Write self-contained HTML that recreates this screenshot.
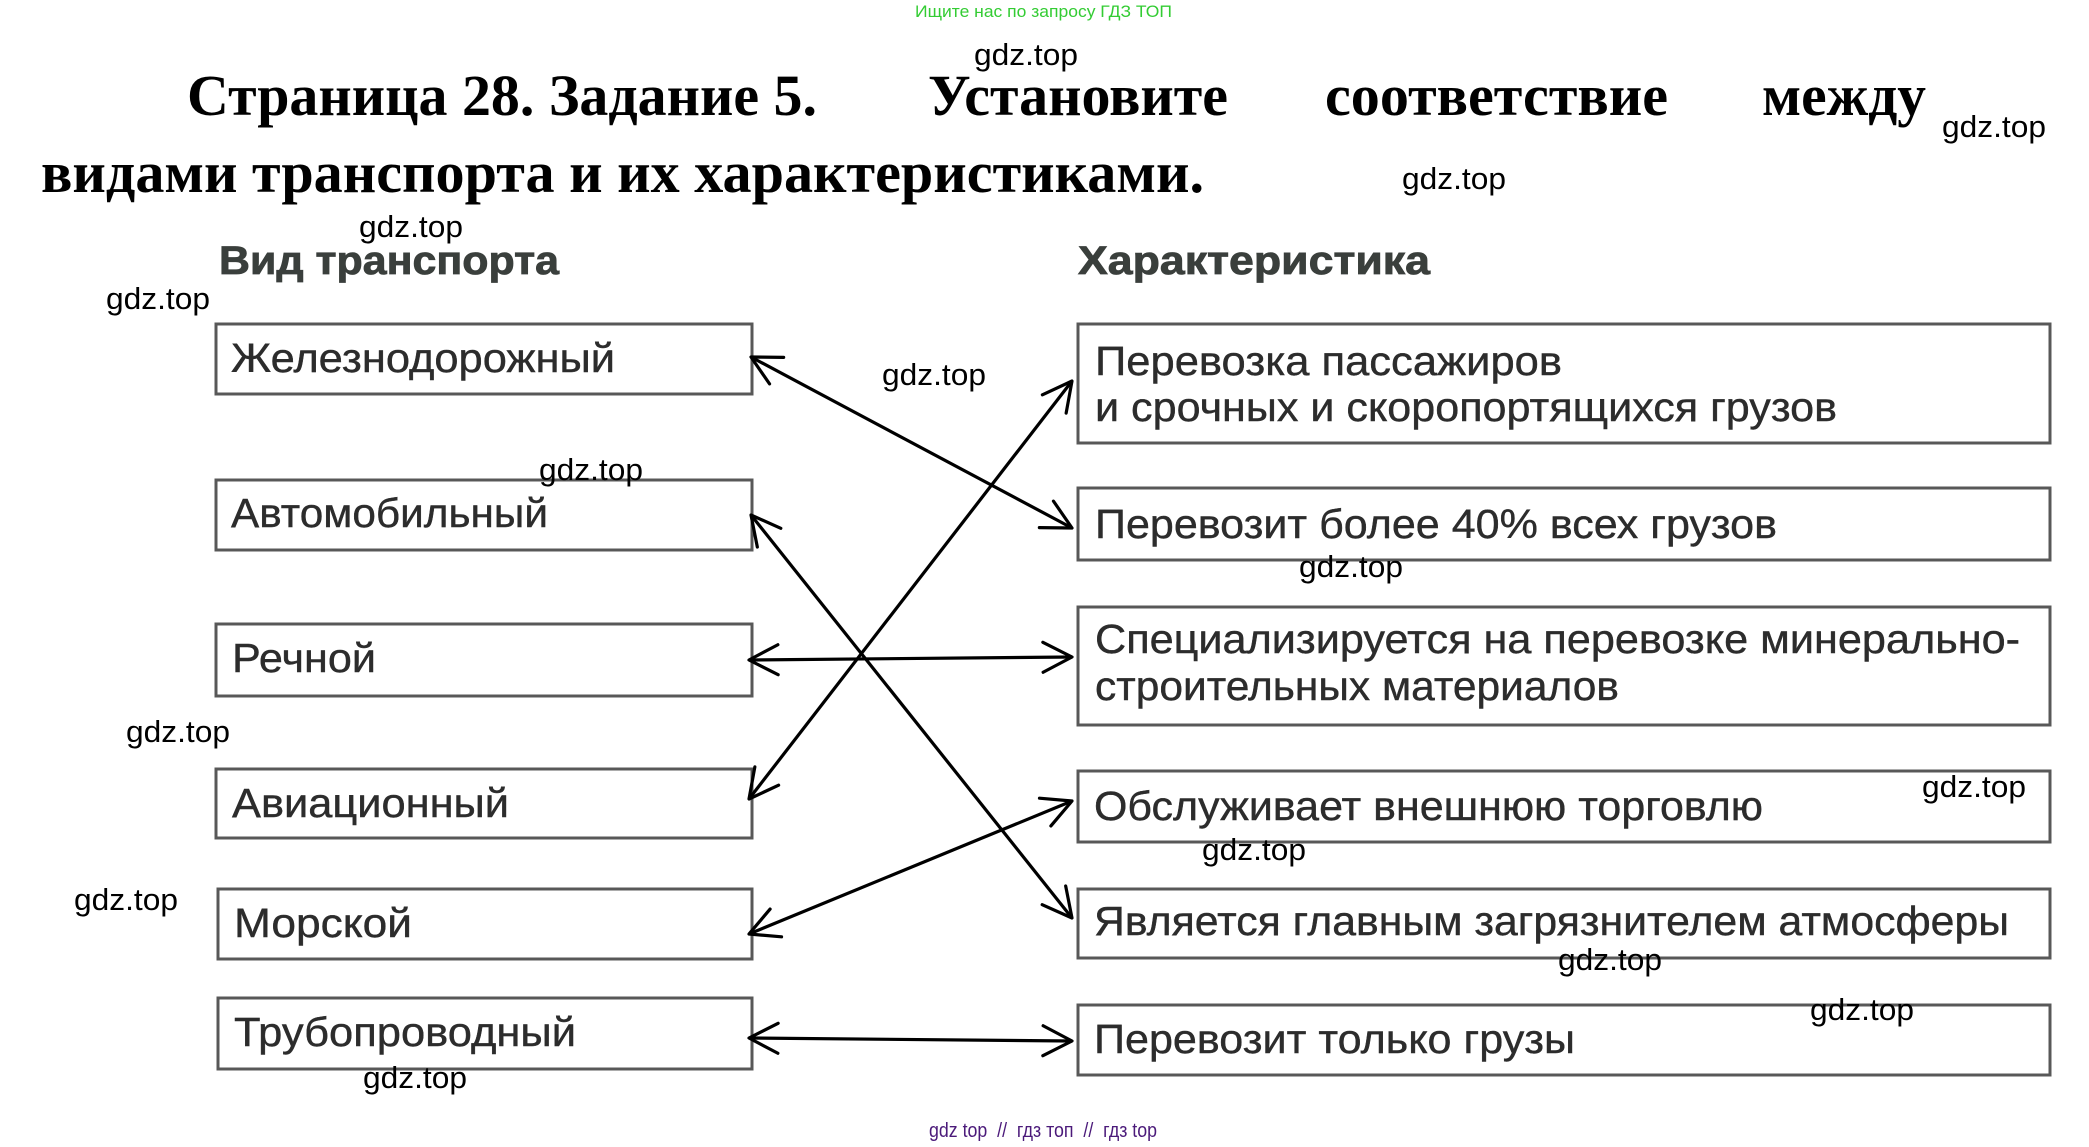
<!DOCTYPE html>
<html>
<head>
<meta charset="utf-8">
<style>
html,body{margin:0;padding:0;background:#fff;}
svg{display:block;}
.t{font-family:"Liberation Serif",serif;font-weight:bold;font-size:58px;fill:#000;}
.h{font-family:"Liberation Sans",sans-serif;font-weight:bold;font-size:40px;fill:#3a3f3c;stroke:#3a3f3c;stroke-width:0.8px;}
.b{font-family:"Liberation Sans",sans-serif;font-size:41px;fill:#2c2c2c;stroke:#2c2c2c;stroke-width:0.4px;}
.w{font-family:"Liberation Sans",sans-serif;font-size:31px;fill:#000;}
.box{fill:none;stroke:#585858;stroke-width:3;}
.ar{stroke:#000;stroke-width:3.2;fill:none;}
</style>
</head>
<body>
<svg width="2089" height="1147" viewBox="0 0 2089 1147" xmlns="http://www.w3.org/2000/svg">
<defs>
<marker id="ah" markerUnits="userSpaceOnUse" viewBox="-34 -20 38 40" markerWidth="38" markerHeight="40" refX="0" refY="0" orient="auto-start-reverse">
<path d="M-29,-15 L0,0 L-29,15" fill="none" stroke="#000" stroke-width="3.2" stroke-linejoin="round" stroke-linecap="round"/>
</marker>
</defs>
<rect width="2089" height="1147" fill="#fff"/>

<text x="915" y="17" font-family="Liberation Sans, sans-serif" font-size="17" fill="#33cc33" textLength="257" lengthAdjust="spacingAndGlyphs">Ищите нас по запросу ГДЗ ТОП</text>

<!-- Title -->
<text class="t" x="187" y="115" textLength="630" lengthAdjust="spacingAndGlyphs">Страница 28. Задание 5.</text>
<text class="t" x="928" y="115" textLength="300" lengthAdjust="spacingAndGlyphs">Установите</text>
<text class="t" x="1325" y="115" textLength="343" lengthAdjust="spacingAndGlyphs">соответствие</text>
<text class="t" x="1762" y="115" textLength="164" lengthAdjust="spacingAndGlyphs">между</text>
<text class="t" x="41" y="192" textLength="1163" lengthAdjust="spacingAndGlyphs">видами транспорта и их характеристиками.</text>

<!-- Headers -->
<text class="h" x="219" y="274" textLength="340" lengthAdjust="spacingAndGlyphs">Вид транспорта</text>
<text class="h" x="1078" y="274" textLength="352" lengthAdjust="spacingAndGlyphs">Характеристика</text>

<!-- Left boxes -->
<rect class="box" x="216" y="324" width="536" height="70"/>
<rect class="box" x="216" y="480" width="536" height="70"/>
<rect class="box" x="216" y="624" width="536" height="72"/>
<rect class="box" x="216" y="769" width="536" height="69"/>
<rect class="box" x="218" y="889" width="534" height="70"/>
<rect class="box" x="218" y="998" width="534" height="71"/>

<text class="b" x="231" y="372" textLength="384" lengthAdjust="spacingAndGlyphs">Железнодорожный</text>
<text class="b" x="231" y="527" textLength="317" lengthAdjust="spacingAndGlyphs">Автомобильный</text>
<text class="b" x="232" y="672" textLength="144" lengthAdjust="spacingAndGlyphs">Речной</text>
<text class="b" x="232" y="817" textLength="277" lengthAdjust="spacingAndGlyphs">Авиационный</text>
<text class="b" x="234" y="937" textLength="178" lengthAdjust="spacingAndGlyphs">Морской</text>
<text class="b" x="234" y="1046" textLength="342" lengthAdjust="spacingAndGlyphs">Трубопроводный</text>

<!-- Right boxes -->
<rect class="box" x="1078" y="324" width="972" height="119"/>
<rect class="box" x="1078" y="488" width="972" height="72"/>
<rect class="box" x="1078" y="607" width="972" height="118"/>
<rect class="box" x="1078" y="771" width="972" height="71"/>
<rect class="box" x="1078" y="889" width="972" height="69"/>
<rect class="box" x="1078" y="1005" width="972" height="70"/>

<text class="b" x="1095" y="375" textLength="467" lengthAdjust="spacingAndGlyphs">Перевозка пассажиров</text>
<text class="b" x="1095" y="421" textLength="742" lengthAdjust="spacingAndGlyphs">и срочных и скоропортящихся грузов</text>
<text class="b" x="1095" y="538" textLength="682" lengthAdjust="spacingAndGlyphs">Перевозит более 40% всех грузов</text>
<text class="b" x="1095" y="653" textLength="925" lengthAdjust="spacingAndGlyphs">Специализируется на перевозке минерально-</text>
<text class="b" x="1095" y="700" textLength="524" lengthAdjust="spacingAndGlyphs">строительных материалов</text>
<text class="b" x="1094" y="820" textLength="669" lengthAdjust="spacingAndGlyphs">Обслуживает внешнюю торговлю</text>
<text class="b" x="1094" y="935" textLength="915" lengthAdjust="spacingAndGlyphs">Является главным загрязнителем атмосферы</text>
<text class="b" x="1094" y="1053" textLength="481" lengthAdjust="spacingAndGlyphs">Перевозит только грузы</text>

<!-- Arrows -->
<line class="ar" x1="751" y1="357" x2="1072" y2="528" marker-start="url(#ah)" marker-end="url(#ah)"/>
<line class="ar" x1="751" y1="515" x2="1072" y2="918" marker-start="url(#ah)" marker-end="url(#ah)"/>
<line class="ar" x1="749" y1="660" x2="1072" y2="657" marker-start="url(#ah)" marker-end="url(#ah)"/>
<line class="ar" x1="749" y1="799" x2="1072" y2="381" marker-start="url(#ah)" marker-end="url(#ah)"/>
<line class="ar" x1="749" y1="934" x2="1072" y2="801" marker-start="url(#ah)" marker-end="url(#ah)"/>
<line class="ar" x1="749" y1="1038" x2="1072" y2="1041" marker-start="url(#ah)" marker-end="url(#ah)"/>

<!-- Watermarks -->
<text class="w" x="974" y="65" textLength="104" lengthAdjust="spacingAndGlyphs">gdz.top</text>
<text class="w" x="1942" y="137" textLength="104" lengthAdjust="spacingAndGlyphs">gdz.top</text>
<text class="w" x="1402" y="189" textLength="104" lengthAdjust="spacingAndGlyphs">gdz.top</text>
<text class="w" x="359" y="237" textLength="104" lengthAdjust="spacingAndGlyphs">gdz.top</text>
<text class="w" x="106" y="309" textLength="104" lengthAdjust="spacingAndGlyphs">gdz.top</text>
<text class="w" x="882" y="385" textLength="104" lengthAdjust="spacingAndGlyphs">gdz.top</text>
<text class="w" x="539" y="480" textLength="104" lengthAdjust="spacingAndGlyphs">gdz.top</text>
<text class="w" x="1299" y="577" textLength="104" lengthAdjust="spacingAndGlyphs">gdz.top</text>
<text class="w" x="126" y="742" textLength="104" lengthAdjust="spacingAndGlyphs">gdz.top</text>
<text class="w" x="1922" y="797" textLength="104" lengthAdjust="spacingAndGlyphs">gdz.top</text>
<text class="w" x="1202" y="860" textLength="104" lengthAdjust="spacingAndGlyphs">gdz.top</text>
<text class="w" x="74" y="910" textLength="104" lengthAdjust="spacingAndGlyphs">gdz.top</text>
<text class="w" x="1558" y="970" textLength="104" lengthAdjust="spacingAndGlyphs">gdz.top</text>
<text class="w" x="1810" y="1020" textLength="104" lengthAdjust="spacingAndGlyphs">gdz.top</text>
<text class="w" x="363" y="1088" textLength="104" lengthAdjust="spacingAndGlyphs">gdz.top</text>

<!-- Footer -->
<text x="929" y="1137" font-family="Liberation Sans, sans-serif" font-size="20" fill="#4b1a7a" style="white-space:pre" textLength="228" lengthAdjust="spacingAndGlyphs">gdz top  //  гдз топ  //  гдз top</text>
</svg>
</body>
</html>
